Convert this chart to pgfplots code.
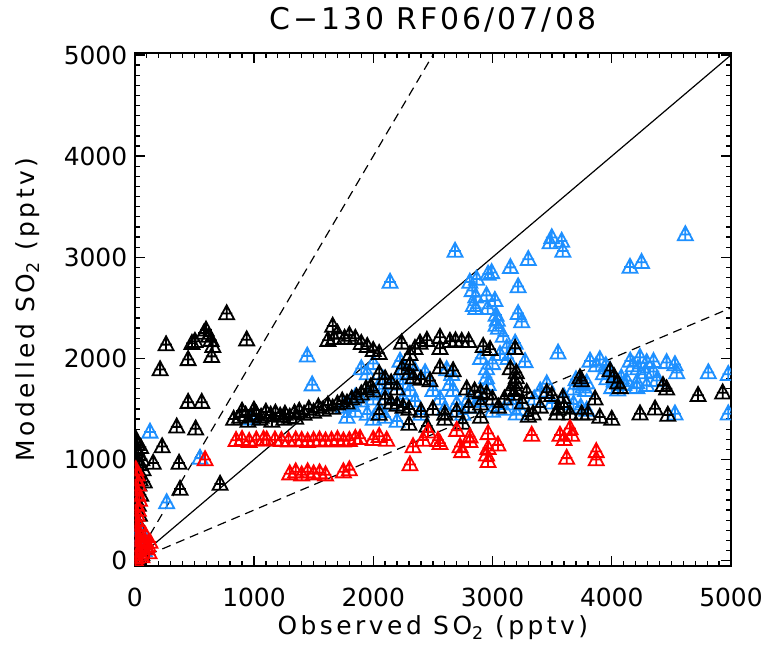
\documentclass[border=0pt]{standalone}
\usepackage{fontspec}
\setmainfont{DejaVu Sans}
\newfontfamily\widefont{DejaVu Sans}[LetterSpace=14]
\newfontfamily\titlefont{DejaVu Sans}[LetterSpace=10]
\usepackage{pgfplots}
\pgfplotsset{compat=1.18}
\definecolor{idlblue}{RGB}{30,144,255}
\definecolor{idlred}{RGB}{255,0,0}

% triangle with a cross inside, like the IDL symbols
\pgfdeclareplotmark{tricross}{%
  \pgfpathmoveto{\pgfpoint{0bp}{8.3bp}}%
  \pgfpathlineto{\pgfpoint{-7.5bp}{-5.7bp}}%
  \pgfpathlineto{\pgfpoint{7.5bp}{-5.7bp}}%
  \pgfpathclose
  \pgfpathmoveto{\pgfpoint{0bp}{8.3bp}}%
  \pgfpathlineto{\pgfpoint{0bp}{-5.7bp}}%
  \pgfpathmoveto{\pgfpoint{-5.8bp}{0bp}}%
  \pgfpathlineto{\pgfpoint{5.8bp}{0bp}}%
  \pgfusepathqstroke}

\begin{document}
\begin{tikzpicture}
\useasboundingbox (0,0) rectangle (768bp,648bp);
\begin{axis}[
    at={(134.7bp,82.3bp)}, anchor=south west,
    width=596.3bp, height=512.7bp, scale only axis,
    xmin=0, xmax=5000, ymin=-50, ymax=5020,
    xtick={0,1000,...,5000}, ytick={0,1000,...,5000},
    minor tick num=9,
    tick align=inside,
    major tick length=10bp, minor tick length=5bp,
    every tick/.style={black, line width=1.3bp},
    axis line style={line width=1.8bp},
    /pgf/number format/assume math mode=true,
    /pgf/number format/1000 sep={},
    tick label style={font=\fontsize{25}{30}\selectfont},
    xticklabel style={yshift=-19bp},
    yticklabel style={xshift=-4bp},
    xlabel={\widefont Observed SO\textsubscript{2} (pptv)},
    ylabel={\widefont Modelled SO\textsubscript{2} (pptv)},
    label style={font=\fontsize{25}{30}\selectfont},
    xlabel style={at={(axis description cs:0.5,-0.1215)}, anchor=center},
    ylabel style={at={(axis description cs:-0.179,0.5)}, anchor=center},
    title={\titlefont C−130 RF06/07/08},
    title style={font=\fontsize{30}{36}\selectfont, at={(axis description cs:0.5,1.0527)}, anchor=center},
    clip marker paths=true,
]
% reference lines 1:1, 2:1 and 1:2
\addplot[black, line width=1.2bp] coordinates {(0,0) (5000,5000)};
\addplot[black, line width=1.2bp, dash pattern=on 9bp off 6bp] coordinates {(0,0) (2510,5020)};
\addplot[black, line width=1.2bp, dash pattern=on 9bp off 6bp] coordinates {(0,0) (5000,2500)};

% blue series
\addplot[only marks, mark=tricross, idlblue, line width=1.8bp] coordinates {
(128,1273) (268,575) (548,1014) (40,300) (30,250) (60,200) (20,150) (80,100) (50,320)
(1447,2025) (1488,1740) (2141,2755) (981,1404)
(1800,1550) (1850,1620) (1900,1580) (1950,1650) (2000,1600) (2050,1700) (2100,1650)
(2150,1750) (2200,1800) (2225,1975) (2260,1900) (2300,1860) (2350,1880) (2435,1860)
(2250,1750) (2310,1685) (1900,1900) (1950,1850) (2000,1950) (2080,1800) (1850,1480)
(1950,1450) (2050,1500) (2150,1550) (2250,1600) (2350,1580) (2400,1450) (2000,1400)
(2100,1420) (2200,1380) (1750,1520) (1780,1420)
(2500,1685) (2560,1600) (2616,1890) (2643,1745) (2658,1843) (2670,1685) (2700,1550)
(2800,1600) (2900,1580) (2950,1810) (2963,1745) (2600,1500) (2750,1450) (2850,1520)
(3000,1480) (3100,1500) (3170,1550) (3230,1500) (3200,1453) (2686,3062) (3300,2980)
(3150,2900) (2993,2850) (2963,2835) (2810,2755) (2867,2785) (2830,2672) (2860,2610)
(2840,2525) (2860,2495) (2950,2623) (3020,2575) (2960,2495) (3215,2710) (3030,2428)
(3040,2380) (3030,2330) (3050,2300) (3215,2445) (3245,2365) (3090,2220) (3190,2153)
(3120,2105) (3063,2040) (3130,2000) (3273,1970) (2900,2000) (2950,1900) (3000,1950)
(3497,3195) (3483,3145) (3580,3160) (3590,3062) (4617,3225) (4153,2903) (4250,2950)
(3550,2055) (3700,1790) (3740,1750) (3680,1700) (3760,1720) (3790,1760) (3780,1685)
(3818,1975) (3900,1990) (3870,1930) (3950,1930) (3986,1880) (3930,1850) (3960,1800)
(4020,1780) (4080,1810) (4125,1780) (4155,1975) (4180,1930) (4237,2010) (4293,1960)
(4220,1900) (4280,1860) (4350,1870) (4350,1970) (4460,1960) (4530,1940) (4545,1860)
(4210,1762) (4293,1733) (4377,1782) (4810,1860) (4977,1843) (3455,1750) (3680,1550)
(3740,1520) (3790,1490) (4000,1713) (4050,1690) (4100,1745) (4210,1713) (4530,1453)
(4977,1453) (3350,1600) (3400,1680) (3500,1560) (3600,1620)
};

% black series
\addplot[only marks, mark=tricross, black, line width=1.8bp] coordinates {
(10,1200) (20,1150) (15,1100) (30,1050) (10,1000) (25,980) (40,950) (15,900) (30,870)
(20,830) (45,800) (10,780) (35,750) (20,700) (50,650) (10,600) (30,550) (20,500)
(40,450) (15,400) (30,350) (10,300) (50,1120) (60,1000) (70,900) (80,780) (100,120)
(60,60) (30,20)
(213,1890) (263,2136) (448,1990) (480,2150) (505,2170) (598,2282) (580,2250) (620,2220)
(640,2180) (655,2120) (645,2020) (771,2443) (939,2185) (448,1567) (562,1567) (352,1323)
(511,1304) (230,1128) (155,965) (372,965) (380,708) (716,757)
(830,1400) (880,1420) (930,1440) (980,1430) (1020,1450) (1060,1420) (1100,1470)
(1140,1440) (1180,1460) (1220,1430) (1260,1450) (1300,1420) (1340,1460) (1380,1480)
(1420,1450) (1460,1500) (1500,1470) (1540,1520) (1580,1490) (1620,1540) (1660,1510)
(1700,1550) (1740,1580) (1780,1560) (1820,1600) (1860,1620) (1900,1650) (1940,1700)
(1980,1720) (2000,1680) (900,1480) (950,1380) (1000,1490) (1050,1400) (1150,1380)
(1250,1400) (1350,1410)
(1660,2320) (1670,2200) (1700,2250) (1760,2200) (1800,2230) (1850,2200) (1900,2150)
(1950,2120) (2000,2080) (2050,2050) (1620,2180)
(2050,1850) (2100,1800) (2150,1760) (2200,1700) (2240,1900) (2300,1850) (2335,1810)
(2400,1795) (2476,1780) (2560,1910) (2670,1880) (2784,1700) (2850,1680) (2900,1665)
(2951,1650) (2100,1600) (2150,1560) (2200,1540) (2250,1520) (2300,1500) (2400,1480)
(2500,1500) (2600,1450) (2700,1480) (2800,1520) (2900,1550) (3000,1600) (2050,1450)
(2300,1350) (2450,1330) (2600,1400) (2750,1360) (2900,1420)
(2238,2153) (2308,2040) (2308,1940) (2392,2153) (2560,2210) (2560,2100) (2643,2170)
(2690,2175) (2742,2170) (2800,2170) (2922,2120) (2980,2090) (2450,2180) (2350,2100)
(3200,1860) (3200,1810) (3190,1763) (3200,1685) (3180,1648) (3150,1685) (3287,1665)
(3150,1900) (3190,2100) (3455,1665) (3497,1635) (3590,1615) (3734,1810) (3746,1780)
(3860,1600) (3986,1880) (4020,1820) (4050,1760) (4071,1713) (4237,1453) (4363,1502)
(4430,1733) (4460,1700) (4724,1635) (4930,1660) (3748,1453) (3801,1453) (3650,1453)
(3340,1453) (3539,1453) (3100,1600) (3250,1560) (3400,1520) (3550,1500) (3050,1520)
(4000,1400) (3900,1420) (4470,1440) (3300,1430) (3600,1520)
};

% red series
\addplot[only marks, mark=tricross, idlred, line width=1.8bp] coordinates {
(10,900) (20,850) (15,800) (30,750) (10,700) (25,650) (40,600) (15,550) (30,500)
(20,450) (10,400) (35,350) (25,300) (10,250) (45,200) (30,150) (20,100) (50,60)
(10,30) (80,180) (128,183) (100,120) (120,80) (60,40) (5,10) (90,250) (110,150)
(590,1000) (850,1190) (900,1200) (960,1180) (1020,1195) (1080,1200) (1107,1195)
(1176,1195) (1230,1190) (1290,1185) (1350,1195) (1400,1190) (1450,1180) (1500,1190)
(1550,1195) (1600,1185) (1650,1190) (1700,1200) (1750,1185) (1800,1190) (1850,1210)
(1890,1210) (1300,860) (1350,880) (1400,850) (1450,880) (1500,860) (1550,870)
(1600,850) (1750,880) (1800,900) (2000,1200) (2050,1230) (2113,1193) (2460,1275)
(2418,1193) (2334,1128) (2543,1190) (2560,1160) (2700,1290) (2811,1226) (2811,1180)
(2728,1128) (2742,1080) (2963,1258) (2963,1112) (2950,1047) (2963,982) (3046,1145)
(3329,1242) (3566,1242) (3650,1307) (3664,1242) (3622,1014) (2308,950) (3870,1000)
(3870,1080) (3600,1200)
};
\end{axis}
\end{tikzpicture}
\end{document}
